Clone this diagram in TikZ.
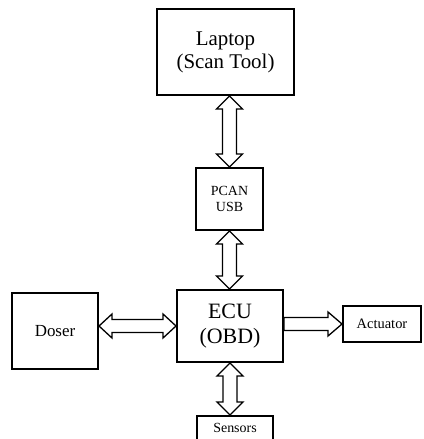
\documentclass[tikz,border=0pt]{standalone}
\usepackage{fontspec}
\setmainfont{Liberation Serif}
\usetikzlibrary{calc}
\tikzset{
  blk/.style={draw=black, line width=2bp, fill=white, inner sep=0pt, align=center},
  arrowline/.style={draw=black, line width=1.3bp, line join=miter, fill=white},
}
\def\hw{13bp}
\def\sw{7bp}
\def\hl{13bp}
% vertical hollow double arrow from #1 (top) to #2 (bottom)
\newcommand{\VDA}[2]{%
  \draw[arrowline] let \p1=(#1), \p2=(#2) in
    (\x1,\y1) -- (\x1+\hw,\y1-\hl) -- (\x1+\sw,\y1-\hl) -- (\x1+\sw,\y2+\hl)
    -- (\x1+\hw,\y2+\hl) -- (\x1,\y2) -- (\x1-\hw,\y2+\hl) -- (\x1-\sw,\y2+\hl)
    -- (\x1-\sw,\y1-\hl) -- (\x1-\hw,\y1-\hl) -- cycle;}
% horizontal hollow double arrow from #1 (left) to #2 (right)
\newcommand{\HDA}[2]{%
  \draw[arrowline] let \p1=(#1), \p2=(#2) in
    (\x1,\y1) -- (\x1+\hl,\y1+12bp) -- (\x1+\hl,\y1+6.5bp) -- (\x2-\hl,\y1+6.5bp)
    -- (\x2-\hl,\y1+12bp) -- (\x2,\y1) -- (\x2-\hl,\y1-12bp) -- (\x2-\hl,\y1-6.5bp)
    -- (\x1+\hl,\y1-6.5bp) -- (\x1+\hl,\y1-12bp) -- cycle;}
% horizontal hollow single arrow from #1 (left) to #2 (right)
\newcommand{\HSA}[2]{%
  \draw[arrowline] let \p1=(#1), \p2=(#2) in
    (\x1,\y1+6.5bp) -- (\x2-14bp,\y1+6.5bp) -- (\x2-14bp,\y1+12bp) -- (\x2,\y1)
    -- (\x2-14bp,\y1-12bp) -- (\x2-14bp,\y1-6.5bp) -- (\x1,\y1-6.5bp) -- cycle;}
\begin{document}
\begin{tikzpicture}[x=1bp,y=-1bp]
\useasboundingbox (0,0) rectangle (423,439);
\node[blk, minimum width=137bp, minimum height=86bp, font=\fontsize{21}{23}\selectfont] (laptop) at (225.5,52) {Laptop\\(Scan Tool)};
\node[blk, minimum width=67bp, minimum height=62bp, font=\fontsize{14}{16}\selectfont] (pcan) at (229.5,199) {PCAN\\USB};
\node[blk, minimum width=106bp, minimum height=72bp, font=\fontsize{22}{25}\selectfont] (ecu) at (230,326) {ECU\\(OBD)};
\node[blk, minimum width=86bp, minimum height=76bp, font=\fontsize{17}{20}\selectfont] (doser) at (55,331) {Doser};
\node[blk, minimum width=78bp, minimum height=36bp, font=\fontsize{14.5}{16}\selectfont] (actuator) at (382,324) {Actuator};
\node[blk, minimum width=76bp, minimum height=24bp, font=\fontsize{14}{16}\selectfont] (sensors) at (235,428) {Sensors};
\VDA{pcan.north |- laptop.south}{pcan.north}
\VDA{pcan.south}{pcan.south |- ecu.north}
\VDA{ecu.south}{ecu.south |- sensors.north}
\HDA{doser.east |- ecu.west}{ecu.west}
\HSA{ecu.east |- actuator.west}{actuator.west}
\end{tikzpicture}
\end{document}
